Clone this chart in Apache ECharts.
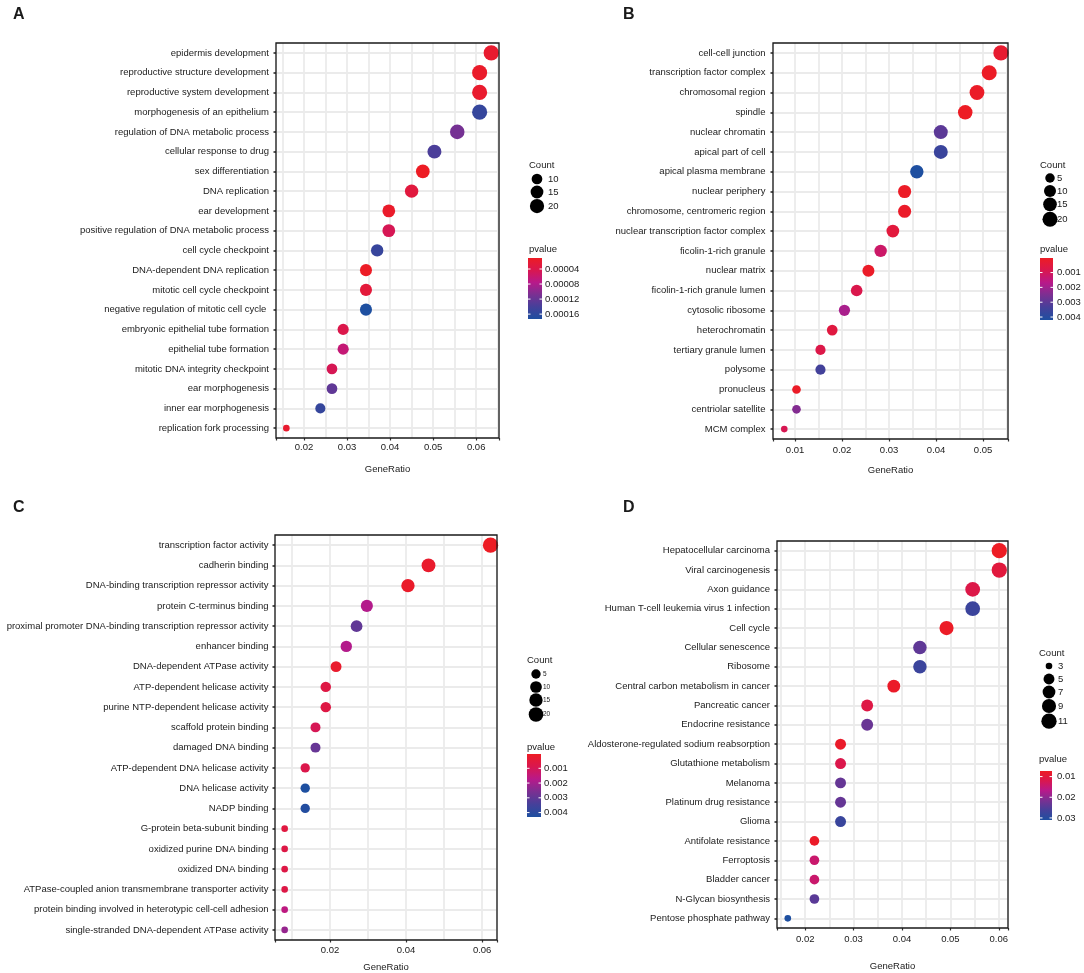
<!DOCTYPE html>
<html>
<head>
<meta charset="utf-8">
<script src="https://cdn.jsdelivr.net/npm/echarts@6/dist/echarts.min.js"></script>
<style>
html, body { margin: 0; padding: 0; background: #fff; }
#main { width: 1084px; height: 973px; }
</style>
</head>
<body>
<div id="main"></div>
<script>
// A - biological process
var termsA = ['epidermis development', 'reproductive structure development', 'reproductive system development',
    'morphogenesis of an epithelium', 'regulation of DNA metabolic process', 'cellular response to drug',
    'sex differentiation', 'DNA replication', 'ear development', 'positive regulation of DNA metabolic process',
    'cell cycle checkpoint', 'DNA-dependent DNA replication', 'mitotic cell cycle checkpoint',
    'negative regulation of mitotic cell cycle ', 'embryonic epithelial tube formation', 'epithelial tube formation',
    'mitotic DNA integrity checkpoint', 'ear morphogenesis', 'inner ear morphogenesis', 'replication fork processing'];
var ratioA = [0.0635, 0.0608, 0.0608, 0.0608, 0.0556, 0.0503, 0.0476, 0.0450, 0.0397, 0.0397,
    0.0370, 0.0344, 0.0344, 0.0344, 0.0291, 0.0291, 0.0265, 0.0265, 0.0238, 0.0159];
var countA = [24, 23, 23, 23, 21, 19, 18, 17, 15, 15, 14, 13, 13, 13, 11, 11, 10, 10, 9, 6];
var pvalA = [0.000019, 0.000015, 0.000018, 0.000154, 0.000111, 0.000137, 0.0000107, 0.000030, 0.000016, 0.000046,
    0.000152, 0.000012, 0.000027, 0.000173, 0.000040, 0.000064, 0.000046, 0.000124, 0.000154, 0.000019];
var countBreaksA = [10, 15, 20];
var pvalBreaksA = [0.00004, 0.00008, 0.00012, 0.00016];
var pvalLabelsA = ['0.00004', '0.00008', '0.00012', '0.00016'];

// B - cellular component
var termsB = ['cell-cell junction', 'transcription factor complex', 'chromosomal region', 'spindle',
    'nuclear chromatin', 'apical part of cell', 'apical plasma membrane', 'nuclear periphery',
    'chromosome, centromeric region', 'nuclear transcription factor complex', 'ficolin-1-rich granule',
    'nuclear matrix', 'ficolin-1-rich granule lumen', 'cytosolic ribosome', 'heterochromatin',
    'tertiary granule lumen', 'polysome', 'pronucleus', 'centriolar satellite', 'MCM complex'];
var ratioB = [0.0538, 0.0513, 0.0487, 0.0462, 0.0410, 0.0410, 0.0359, 0.0333, 0.0333, 0.0308,
    0.0282, 0.0256, 0.0231, 0.0205, 0.0179, 0.0154, 0.0154, 0.0103, 0.0103, 0.0077];
var countB = [21, 20, 19, 18, 16, 16, 14, 13, 13, 12, 11, 10, 9, 8, 7, 6, 6, 4, 4, 3];
var pvalB = [0.00025, 0.00005, 0.0001, 0.00002, 0.0030, 0.0036, 0.0042, 0.00008, 0.00012, 0.0005,
    0.0012, 0.0001, 0.0008, 0.0019, 0.00056, 0.00073, 0.0034, 0.0001, 0.0024, 0.0009];
var countBreaksB = [5, 10, 15, 20];
var pvalBreaksB = [0.001, 0.002, 0.003, 0.004];
var pvalLabelsB = ['0.001', '0.002', '0.003', '0.004'];

// C - molecular function
var termsC = ['transcription factor activity', 'cadherin binding', 'DNA-binding transcription repressor activity',
    'protein C-terminus binding', 'proximal promoter DNA-binding transcription repressor activity',
    'enhancer binding', 'DNA-dependent ATPase activity', 'ATP-dependent helicase activity',
    'purine NTP-dependent helicase activity', 'scaffold protein binding', 'damaged DNA binding',
    'ATP-dependent DNA helicase activity', 'DNA helicase activity', 'NADP binding',
    'G-protein beta-subunit binding', 'oxidized purine DNA binding', 'oxidized DNA binding',
    'ATPase-coupled anion transmembrane transporter activity',
    'protein binding involved in heterotypic cell-cell adhesion', 'single-stranded DNA-dependent ATPase activity'];
var ratioC = [0.0622, 0.0459, 0.0405, 0.0297, 0.0270, 0.0243, 0.0216, 0.0189, 0.0189, 0.0162,
    0.0162, 0.0135, 0.0135, 0.0135, 0.0081, 0.0081, 0.0081, 0.0081, 0.0081, 0.0081];
var countC = [23, 17, 15, 11, 10, 9, 8, 7, 7, 6, 6, 5, 5, 5, 3, 3, 3, 3, 3, 3];
var pvalC = [0.00003, 0.0002, 0.00015, 0.0018, 0.0030, 0.0018, 0.0002, 0.00067, 0.00067, 0.00097,
    0.0029, 0.0008, 0.0043, 0.0042, 0.0006, 0.0007, 0.0007, 0.0007, 0.0016, 0.0022];
var countBreaksC = [5, 10, 15, 20];
var pvalBreaksC = [0.001, 0.002, 0.003, 0.004];
var pvalLabelsC = ['0.001', '0.002', '0.003', '0.004'];

// D - KEGG
var termsD = ['Hepatocellular carcinoma', 'Viral carcinogenesis', 'Axon guidance',
    'Human T-cell leukemia virus 1 infection', 'Cell cycle', 'Cellular senescence', 'Ribosome',
    'Central carbon metabolism in cancer', 'Pancreatic cancer', 'Endocrine resistance',
    'Aldosterone-regulated sodium reabsorption', 'Glutathione metabolism', 'Melanoma',
    'Platinum drug resistance', 'Glioma', 'Antifolate resistance', 'Ferroptosis', 'Bladder cancer',
    'N-Glycan biosynthesis', 'Pentose phosphate pathway'];
var ratioD = [0.0601, 0.0601, 0.0546, 0.0546, 0.0492, 0.0437, 0.0437, 0.0383, 0.0328, 0.0328,
    0.0273, 0.0273, 0.0273, 0.0273, 0.0273, 0.0219, 0.0219, 0.0219, 0.0219, 0.0164];
var countD = [11, 11, 10, 10, 9, 8, 8, 7, 6, 6, 5, 5, 5, 5, 5, 4, 4, 4, 4, 3];
var pvalD = [0.0073, 0.0101, 0.0113, 0.0275, 0.0076, 0.0239, 0.0275, 0.0078, 0.0109, 0.0230,
    0.0080, 0.0116, 0.0234, 0.0234, 0.0277, 0.0078, 0.0144, 0.0144, 0.0244, 0.0310];
var countBreaksD = [3, 5, 7, 9, 11];
var pvalBreaksD = [0.01, 0.02, 0.03];
var pvalLabelsD = ['0.01', '0.02', '0.03'];

var FONT = '"Liberation Sans", Arial, sans-serif';
var INK = '#1a1a1a';
var GRID_GREY = '#EBEBEB';
var RAMP = ['#ED1C24', '#D9174F', '#B8198A', '#7A3092', '#45409A', '#1E4FA0'];

var panels = [
    { letter: 'A', terms: termsA, ratio: ratioA, count: countA, pval: pvalA,
      countBreaks: countBreaksA, pvalBreaks: pvalBreaksA, pvalLabels: pvalLabelsA,
      box: { left: 276, top: 43, width: 223, height: 395 }, xMin: 0.0135, xMax: 0.0653, split: 5, step: 0.01,
      nameGap: 26, xMargin: 4, yMargin: 7, letterPos: [13, 15],
      leg: { x: 529, countY: 165, keyY: 179, circleX: 537, labelX: 548, keyFont: 9.5,
             pvalY: 249, barX: 528, barY: 258, barW: 14, barH: 61, tickX: 545 } },
    { letter: 'B', terms: termsB, ratio: ratioB, count: countB, pval: pvalB,
      countBreaks: countBreaksB, pvalBreaks: pvalBreaksB, pvalLabels: pvalLabelsB,
      box: { left: 773, top: 43, width: 235, height: 396 }, xMin: 0.0053, xMax: 0.0553, split: 5, step: 0.01,
      nameGap: 26, xMargin: 6.5, yMargin: 7.5, letterPos: [623, 15],
      leg: { x: 1040, countY: 165, keyY: 178, circleX: 1050, labelX: 1057, keyFont: 9.5,
             pvalY: 249, barX: 1040, barY: 258, barW: 13, barH: 62, tickX: 1057 } },
    { letter: 'C', terms: termsC, ratio: ratioC, count: countC, pval: pvalC,
      countBreaks: countBreaksC, pvalBreaks: pvalBreaksC, pvalLabels: pvalLabelsC,
      box: { left: 275, top: 535, width: 222, height: 405 }, xMin: 0.00556, xMax: 0.0639, split: 3, step: 0.02,
      nameGap: 22, xMargin: 5.5, yMargin: 6.5, letterPos: [13, 508],
      leg: { x: 527, countY: 660, keyY: 674, circleX: 536, labelX: 543, keyFont: 6.5,
             pvalY: 747, barX: 527, barY: 754, barW: 14, barH: 63, tickX: 544 } },
    { letter: 'D', terms: termsD, ratio: ratioD, count: countD, pval: pvalD,
      countBreaks: countBreaksD, pvalBreaks: pvalBreaksD, pvalLabels: pvalLabelsD,
      box: { left: 777, top: 541, width: 231, height: 387 }, xMin: 0.01417, xMax: 0.0619, split: 5, step: 0.01,
      nameGap: 33, xMargin: 6.5, yMargin: 7, letterPos: [623, 508],
      leg: { x: 1039, countY: 653, keyY: 666, circleX: 1049, labelX: 1058, keyFont: 9.5,
             pvalY: 759, barX: 1040, barY: 771, barW: 12, barH: 49, tickX: 1057 } }
];

// ggplot-like area scaling of Count to diameter (px)
function sizeOf(c, cmin, cmax) {
    return 6.6 + 8.7 * Math.sqrt((c - cmin) / (cmax - cmin));
}

function txt(x, y, s, size, weight) {
    return {
        type: 'text', x: x, y: y, silent: true, z: 50,
        style: { text: s, fontSize: size, fontFamily: FONT, fontWeight: weight || 'normal', fill: INK,
                 align: 'left', verticalAlign: 'middle', textAlign: 'left', textVerticalAlign: 'middle' }
    };
}

var grids = [], xAxes = [], yAxes = [], series = [], visualMaps = [], graphics = [];

panels.forEach(function (p, i) {
    var cmin = Math.min.apply(null, p.count), cmax = Math.max.apply(null, p.count);
    var pmin = Math.min.apply(null, p.pval), pmax = Math.max.apply(null, p.pval);

    grids.push({ left: p.box.left, top: p.box.top, width: p.box.width, height: p.box.height, show: false });

    xAxes.push({
        type: 'value', gridIndex: i, min: p.xMin, max: p.xMax, splitNumber: p.split,
        name: 'GeneRatio', nameLocation: 'middle', nameGap: p.nameGap,
        nameTextStyle: { fontSize: 9.5, color: INK, fontFamily: FONT },
        axisLine: { show: false },
        axisTick: { show: true, length: 2.5, lineStyle: { color: '#333', width: 1.2 } },
        axisLabel: {
            fontSize: 9.5, color: INK, fontFamily: FONT, margin: p.xMargin,
            formatter: (function (step) {
                return function (v) {
                    var k = v / step;
                    return Math.abs(k - Math.round(k)) < 1e-6 ? v.toFixed(2) : '';
                };
            })(p.step)
        },
        splitLine: { show: true, lineStyle: { color: GRID_GREY, width: 1.8 } },
        minorTick: { show: false, splitNumber: 2 },
        minorSplitLine: { show: true, lineStyle: { color: GRID_GREY, width: 1.8 } }
    });

    yAxes.push({
        type: 'category', gridIndex: i, data: p.terms, inverse: true,
        axisLine: { show: false },
        axisTick: { show: true, interval: 0, alignWithLabel: true, length: 2.5, lineStyle: { color: '#222', width: 1.5 } },
        axisLabel: { interval: 0, fontSize: 9.5, color: INK, fontFamily: FONT, margin: p.yMargin },
        splitLine: { show: true, interval: 0, alignWithLabel: true, lineStyle: { color: GRID_GREY, width: 1.8 } }
    });

    series.push({
        type: 'scatter', xAxisIndex: i, yAxisIndex: i, z: 3,
        data: p.terms.map(function (t, k) { return [p.ratio[k], t, p.pval[k], p.count[k]]; }),
        symbolSize: function (v) { return sizeOf(v[3], cmin, cmax); },
        itemStyle: { opacity: 1 },
        emphasis: { disabled: true }
    });

    visualMaps.push({
        type: 'continuous', show: false, seriesIndex: i, dimension: 2,
        min: pmin, max: pmax, inRange: { color: RAMP }
    });

    // panel border
    graphics.push({
        type: 'rect', silent: true, z: 40,
        shape: { x: p.box.left, y: p.box.top, width: p.box.width, height: p.box.height },
        style: { fill: 'none', stroke: INK, lineWidth: 1.3 }
    });

    // panel letter
    graphics.push(txt(p.letterPos[0], p.letterPos[1], p.letter, 16, 'bold'));

    // Count legend
    var L = p.leg;
    graphics.push(txt(L.x, L.countY, 'Count', 9.5));
    var y = L.keyY, prevD = null;
    p.countBreaks.forEach(function (c, k) {
        var d = sizeOf(c, cmin, cmax);
        if (k > 0) y += Math.max(13, (prevD + d) / 2 + 0.5);
        graphics.push({ type: 'circle', silent: true, z: 50, shape: { cx: L.circleX, cy: y, r: d / 2 }, style: { fill: '#000' } });
        graphics.push(txt(L.labelX, y, String(c), L.keyFont));
        prevD = d;
    });

    // pvalue colourbar (low values on top)
    graphics.push(txt(L.x, L.pvalY, 'pvalue', 9.5));
    graphics.push({
        type: 'rect', silent: true, z: 50,
        shape: { x: L.barX, y: L.barY, width: L.barW, height: L.barH },
        style: { fill: { type: 'linear', x: 0, y: 0, x2: 0, y2: 1,
            colorStops: RAMP.map(function (c, k) { return { offset: k / (RAMP.length - 1), color: c }; }) } }
    });
    p.pvalBreaks.forEach(function (v, k) {
        var ty = L.barY + (v - pmin) / (pmax - pmin) * L.barH;
        graphics.push({ type: 'line', silent: true, z: 51, shape: { x1: L.barX, y1: ty, x2: L.barX + 2.5, y2: ty }, style: { stroke: '#fff', lineWidth: 1 } });
        graphics.push({ type: 'line', silent: true, z: 51, shape: { x1: L.barX + L.barW - 2.5, y1: ty, x2: L.barX + L.barW, y2: ty }, style: { stroke: '#fff', lineWidth: 1 } });
        graphics.push(txt(L.tickX, ty, p.pvalLabels[k], 9.5));
    });
});

var chart = echarts.init(document.getElementById('main'), null, { renderer: 'canvas' });
chart.setOption({
    backgroundColor: '#fff',
    animation: false,
    textStyle: { fontFamily: FONT },
    grid: grids,
    xAxis: xAxes,
    yAxis: yAxes,
    visualMap: visualMaps,
    series: series,
    graphic: { elements: graphics }
});
</script>
</body>
</html>
